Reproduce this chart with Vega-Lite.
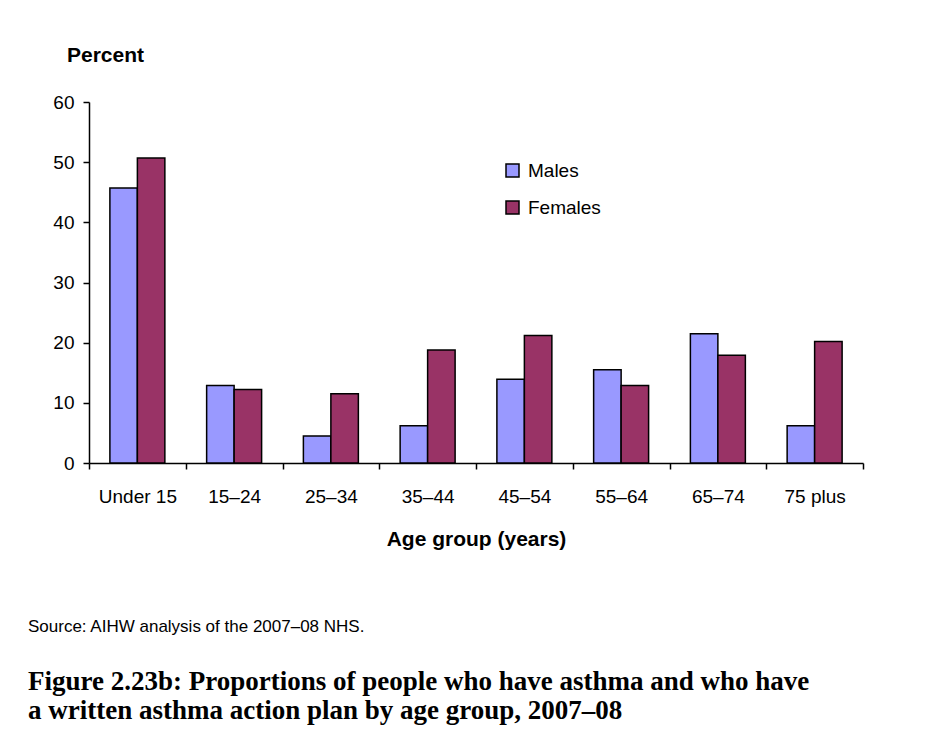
{
  "$schema": "https://vega.github.io/schema/vega-lite/v6.json",
  "width": 774,
  "height": 361,
  "autosize": "none",
  "padding": {"left": 89, "top": 102, "right": 62, "bottom": 279},
  "background": "white",
  "data": {
    "values": [
      {"age": "Under 15", "sex": "Males", "percent": 45.7},
      {"age": "Under 15", "sex": "Females", "percent": 50.7},
      {"age": "15–24", "sex": "Males", "percent": 12.9},
      {"age": "15–24", "sex": "Females", "percent": 12.2},
      {"age": "25–34", "sex": "Males", "percent": 4.5},
      {"age": "25–34", "sex": "Females", "percent": 11.5},
      {"age": "35–44", "sex": "Males", "percent": 6.2},
      {"age": "35–44", "sex": "Females", "percent": 18.8},
      {"age": "45–54", "sex": "Males", "percent": 13.9},
      {"age": "45–54", "sex": "Females", "percent": 21.2},
      {"age": "55–64", "sex": "Males", "percent": 15.5},
      {"age": "55–64", "sex": "Females", "percent": 12.9},
      {"age": "65–74", "sex": "Males", "percent": 21.5},
      {"age": "65–74", "sex": "Females", "percent": 17.9},
      {"age": "75 plus", "sex": "Males", "percent": 6.2},
      {"age": "75 plus", "sex": "Females", "percent": 20.2}
    ]
  },
  "mark": {"type": "bar", "stroke": "black", "strokeWidth": 1.5},
  "encoding": {
    "x": {
      "field": "age",
      "type": "nominal",
      "sort": ["Under 15", "15–24", "25–34", "35–44", "45–54", "55–64", "65–74", "75 plus"],
      "scale": {"paddingInner": 0, "paddingOuter": 0},
      "axis": {
        "title": "Age group (years)",
        "labelAngle": 0,
        "tickBand": "extent",
        "tickSize": 6,
        "labelPadding": 18,
        "titleFont": "Liberation Sans",
        "titleFontSize": 21,
        "titleFontWeight": "bold",
        "titleColor": "black",
        "titleY": 82,
        "titleBaseline": "alphabetic"
      }
    },
    "xOffset": {
      "field": "sex",
      "type": "nominal",
      "sort": ["Males", "Females"],
      "scale": {"paddingInner": 0, "paddingOuter": 0.76}
    },
    "y": {
      "field": "percent",
      "type": "quantitative",
      "scale": {"domain": [0, 60], "nice": false},
      "axis": {
        "title": "Percent",
        "titleAngle": 0,
        "titleAlign": "center",
        "titleX": 16,
        "titleY": -41,
        "titleBaseline": "alphabetic",
        "titleFont": "Liberation Sans",
        "titleFontSize": 21,
        "titleFontWeight": "bold",
        "titleColor": "black",
        "values": [0, 10, 20, 30, 40, 50, 60],
        "grid": false,
        "tickSize": 6,
        "labelPadding": 9
      }
    },
    "color": {
      "field": "sex",
      "type": "nominal",
      "sort": ["Males", "Females"],
      "scale": {"domain": ["Males", "Females"], "range": ["#9999FF", "#993366"]},
      "legend": {
        "orient": "none",
        "legendX": 414,
        "legendY": 59,
        "title": null,
        "symbolType": "square",
        "symbolSize": 169,
        "symbolStrokeColor": "black",
        "symbolStrokeWidth": 1.5,
        "labelFont": "Liberation Sans",
        "labelFontSize": 19,
        "labelColor": "black",
        "labelOffset": 6,
        "rowPadding": 17
      }
    }
  },
  "title": {
    "text": "Source: AIHW analysis of the 2007–08 NHS.",
    "subtitle": ["Figure 2.23b: Proportions of people who have asthma and who have", "a written asthma action plan by age group, 2007–08"],
    "orient": "bottom",
    "anchor": "start",
    "frame": "group",
    "dx": -61,
    "offset": 70,
    "font": "Liberation Sans",
    "fontSize": 17,
    "fontWeight": "normal",
    "color": "black",
    "subtitleFont": "Liberation Serif",
    "subtitleFontSize": 27,
    "subtitleFontWeight": "bold",
    "subtitleColor": "black",
    "subtitleLineHeight": 29,
    "subtitlePadding": 33
  },
  "config": {
    "view": {"stroke": null},
    "axis": {
      "labelFont": "Liberation Sans",
      "labelFontSize": 19,
      "labelColor": "black",
      "domainColor": "black",
      "tickColor": "black",
      "domainWidth": 1.5,
      "tickWidth": 1.5
    }
  }
}
